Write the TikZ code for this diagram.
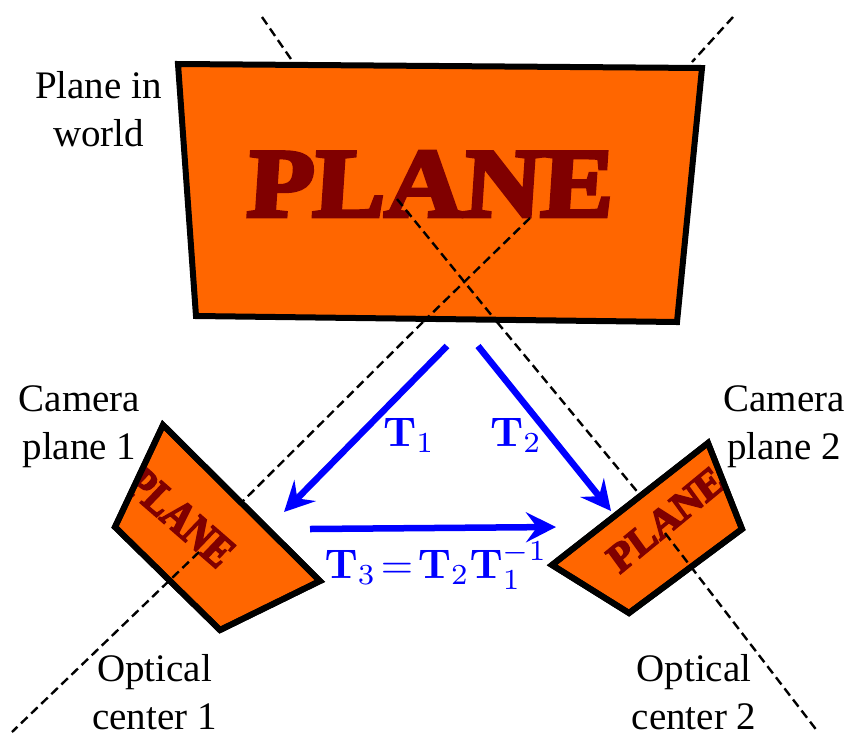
\documentclass[tikz,border=0pt]{standalone}
\usepackage[no-math]{fontspec}
\setmainfont{Liberation Serif}
\newfontfamily\planefont[UprightFont=* Bold,UprightFeatures={FakeBold=4,FakeSlant=0.06}]{Liberation Serif}
\usetikzlibrary{arrows.meta}
\definecolor{planeorange}{HTML}{FF6600}
\definecolor{planered}{HTML}{800000}
\tikzset{
  quad/.style={draw=black,fill=planeorange,line width=6pt,line join=miter},
  ray/.style={draw=black,line width=2.4pt,dash pattern=on 9pt off 5pt},
  motion/.style={draw=blue,line width=6.5pt,-{Stealth[length=30pt,width=30pt,inset=11pt]}},
  caption/.style={align=center,font=\fontsize{39}{48}\selectfont,inner sep=0pt},
  planeword/.style={text=planered,inner sep=0pt,font=\planefont\fontsize{100}{100}\selectfont},
  mathlabel/.style={text=blue,inner sep=0pt,scale=4.15}
}
\begin{document}
\begin{tikzpicture}[x=1pt,y=-1pt]
\useasboundingbox (0,0) rectangle (851,732);
% ray ends
\coordinate (r1a) at (262,17);
\coordinate (r1b) at (293,62);
\coordinate (r1c) at (397,199);
\coordinate (r1d) at (497,322);
\coordinate (r1e) at (640,495);
\coordinate (r1f) at (665,533);
\coordinate (r1g) at (818,732);
\coordinate (r2a) at (733,17);
\coordinate (r2b) at (692,62);
\coordinate (r2c) at (530,218);
\coordinate (r2d) at (423,322);
\coordinate (r2e) at (243,501);
\coordinate (r2f) at (199,552);
\coordinate (r2g) at (12,732);
% rays behind the planes
\draw[ray] (r1a) -- (r1b);
\draw[ray] (r2a) -- (r2b);
\draw[ray] (r1d) -- (r1e);
\draw[ray] (r2d) -- (r2e);
% world plane
\draw[quad] (178,64) -- (702,68) -- (677,322) -- (196,316) -- cycle;
\node[planeword,xscale=1.08,yscale=0.98] (wordworld) at (429,184) {PLANE};
\draw[ray] (r1c) -- (r1d);
\draw[ray] (r2c) -- (r2d);
% camera 1
\draw[quad] (163,425) -- (320,581) -- (220,630) -- (115,527) -- cycle;
\begin{scope}
\clip (163,425) -- (320,581) -- (220,630) -- (115,527) -- cycle;
\node[planeword,rotate=-41,xscale=0.37,yscale=0.46] (wordone) at (180,517) {PLANE};
\end{scope}
\draw[quad,fill=none] (163,425) -- (320,581) -- (220,630) -- (115,527) -- cycle;
\draw[ray] (r2f) -- (r2g);
% camera 2
\draw[quad] (708,443) -- (742,529) -- (629,613) -- (552,565) -- cycle;
\begin{scope}
\clip (708,443) -- (742,529) -- (629,613) -- (552,565) -- cycle;
\node[planeword,rotate=39.5,xscale=0.41,yscale=0.40] (wordtwo) at (665,520) {PLANE};
\end{scope}
\draw[quad,fill=none] (708,443) -- (742,529) -- (629,613) -- (552,565) -- cycle;
\draw[ray] (r1f) -- (r1g);
% motions
\coordinate (ma) at (447,346);
\coordinate (mb) at (284,512);
\coordinate (mc) at (478,346);
\coordinate (md) at (611,511);
\coordinate (me) at (310,529);
\coordinate (mf) at (556,527);
\draw[motion] (ma) -- (mb);
\draw[motion] (mc) -- (md);
\draw[motion] (me) -- (mf);
\node[mathlabel] (tone) at (409,435) {$\mathbf{T}_1$};
\node[mathlabel] (ttwo) at (516,435) {$\mathbf{T}_2$};
\node[mathlabel] (tthree) at (436,566) {$\mathbf{T}_3\!=\!\mathbf{T}_2\mathbf{T}_1^{-1}$};
% captions
\node[caption] (cplane) at (98.5,109.5) {Plane in\\world};
\node[caption] (cam1) at (79.5,427) {Camera\\plane 1};
\node[caption] (cam2) at (784,427) {Camera\\plane 2};
\node[caption] (opt1) at (154.5,692.5) {Optical\\center 1};
\node[caption] (opt2) at (694,692.5) {Optical\\center 2};
\end{tikzpicture}
\end{document}
